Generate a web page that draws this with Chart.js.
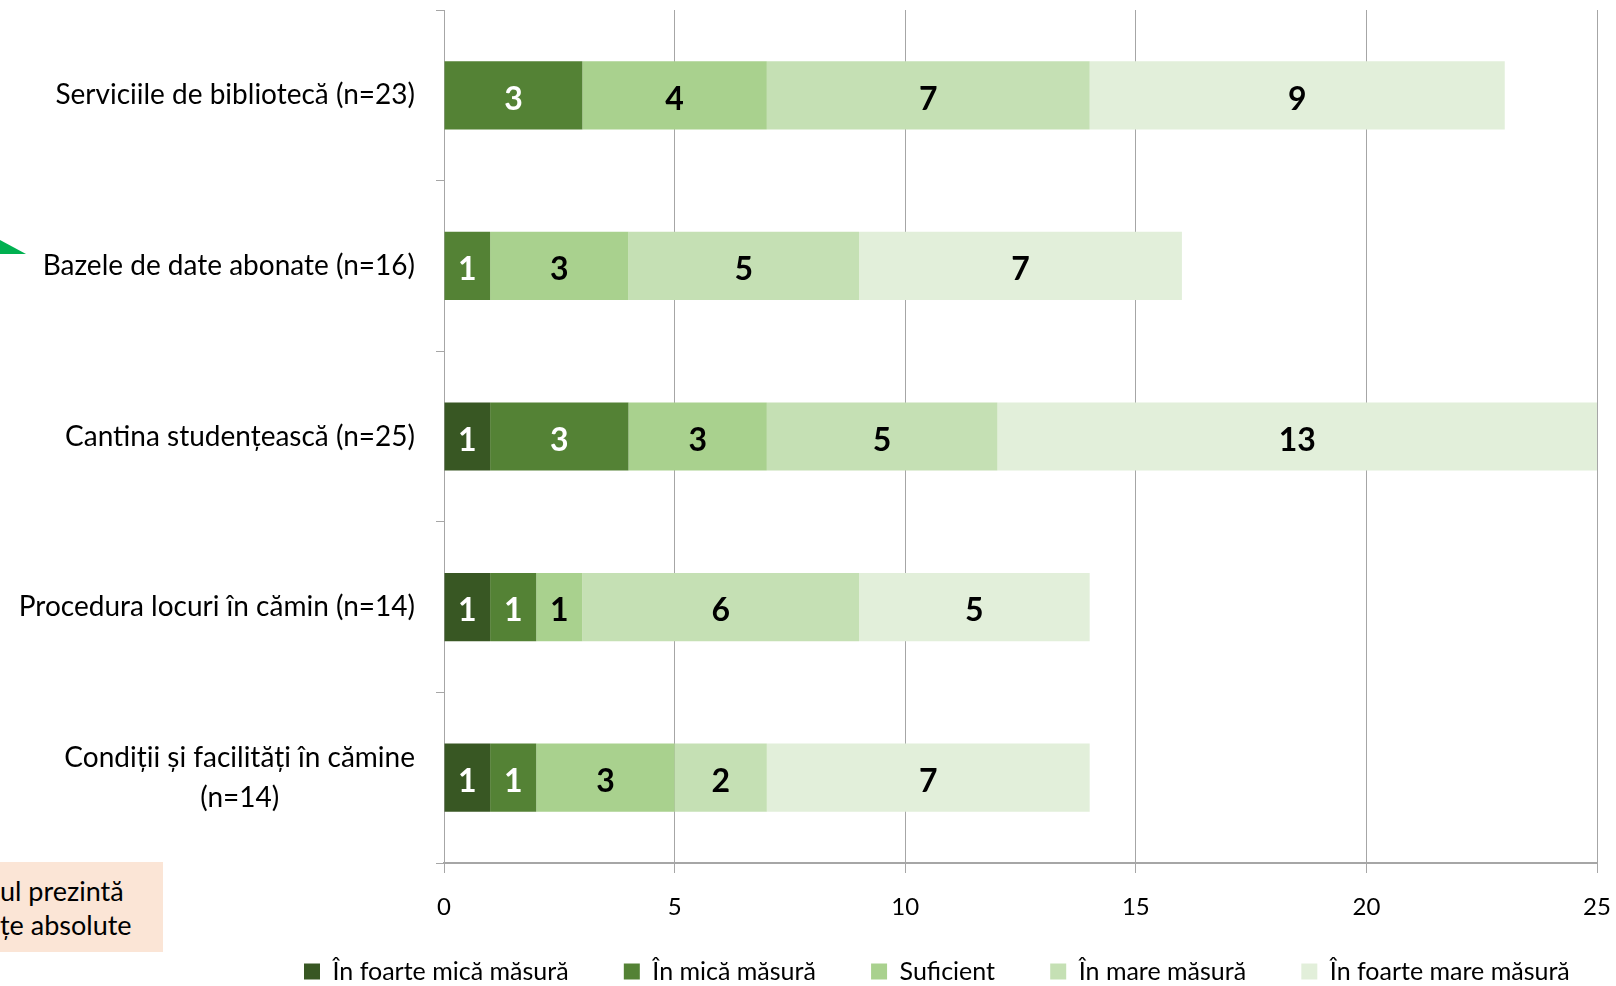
<!DOCTYPE html>
<html>
<head>
<meta charset="utf-8">
<script src="https://cdn.jsdelivr.net/npm/chart.js@4.4.0/dist/chart.umd.min.js"></script>
<style>
    html, body { margin: 0; padding: 0; background: #fff; }
    #wrap { position: relative; width: 1616px; height: 986px; overflow: hidden; }
    #grafic { position: absolute; left: 0; top: 0; }
    #nota { position: absolute; left: 0; top: 862px; width: 163px; height: 90px; background: #fbe5d6;
            font: 27px Lato; line-height: 34px; color: #000; padding-top: 12px; box-sizing: border-box; white-space: nowrap; }
    #sageata { position: absolute; left: 0; top: 240px; width: 26px; height: 14px; background: #00b050;
               clip-path: polygon(0 0, 100% 100%, 0 100%); }
</style>
</head>
<body>
<div id="wrap">
    <canvas id="grafic" width="1616" height="986"></canvas>
    <div id="sageata"></div>
    <div id="nota">ul prezintă<br>țe absolute</div>
</div>
<script>
var categorii = [
    'Serviciile de bibliotecă (n=23)',
    'Bazele de date abonate (n=16)',
    'Cantina studențească (n=25)',
    'Procedura locuri în cămin (n=14)',
    ['Condiții și facilități în cămine', '(n=14)']
];
var serii = ['În foarte mică măsură', 'În mică măsură', 'Suficient', 'În mare măsură', 'În foarte mare măsură'];
var foarteMica = [0, 0, 1, 1, 1];
var mica = [3, 1, 3, 1, 1];
var suficient = [4, 3, 3, 1, 3];
var mare = [7, 5, 5, 6, 2];
var foarteMare = [9, 7, 13, 5, 7];
var culori = ['#385723', '#548235', '#a9d18e', '#c5e0b4', '#e2efda'];
var valoriX = [0, 5, 10, 15, 20, 25];

var valori = [foarteMica, mica, suficient, mare, foarteMare];

// etichetele categoriilor (centrate pe bloc, ca in Excel)
var etichetePlugin = {
    id: 'etichete',
    afterDraw: function (chart) {
        var ctx = chart.ctx;
        var y = chart.scales.y;
        ctx.save();
        ctx.font = '28px Lato';
        ctx.fillStyle = '#000';
        ctx.textAlign = 'center';
        ctx.textBaseline = 'middle';
        categorii.forEach(function (c, i) {
            var py = y.getPixelForValue(i);
            var randuri = Array.isArray(c) ? c : [c];
            var w = Math.max.apply(null, randuri.map(function (r) { return ctx.measureText(r).width; }));
            var cx = y.right - 29 - w / 2;
            randuri.forEach(function (r, k) {
                ctx.fillText(r, cx, py + (k - (randuri.length - 1) / 2) * 40);
            });
        });
        ctx.restore();
    }
};

// valorile in interiorul barelor
var valoriPlugin = {
    id: 'valori',
    afterDatasetsDraw: function (chart) {
        var ctx = chart.ctx;
        ctx.save();
        ctx.font = 'bold 32px Lato';
        ctx.textAlign = 'center';
        ctx.textBaseline = 'middle';
        chart.data.datasets.forEach(function (ds, i) {
            chart.getDatasetMeta(i).data.forEach(function (bar, j) {
                var v = ds.data[j];
                if (!v) return;
                ctx.fillStyle = i < 2 ? '#fff' : '#000';
                ctx.fillText(v, (bar.x + bar.base) / 2, bar.y + 4);
            });
        });
        ctx.restore();
    }
};

new Chart(document.getElementById('grafic'), {
    type: 'bar',
    data: {
        labels: categorii,
        datasets: serii.map(function (s, i) {
            return {
                label: s,
                data: valori[i],
                backgroundColor: culori[i],
                borderWidth: 0,
                barPercentage: 0.4,
                categoryPercentage: 1
            };
        })
    },
    options: {
        indexAxis: 'y',
        responsive: false,
        animation: false,
        layout: { padding: { left: 300, right: 19, top: 10, bottom: -8 } },
        scales: {
            x: {
                stacked: true,
                min: 0,
                max: 25,
                afterBuildTicks: function (s) { s.ticks = valoriX.map(function (v) { return { value: v }; }); },
                afterFit: function (s) { s.paddingLeft = 0; s.paddingRight = 0; s.height = 92; },
                ticks: { font: { family: 'Lato', size: 24 }, color: '#000', padding: 20 },
                grid: { color: '#a6a6a6', lineWidth: 1, tickLength: 10 },
                border: { color: '#a6a6a6', width: 2 }
            },
            y: {
                stacked: true,
                afterFit: function (s) { s.width = 144; },
                ticks: { display: false },
                grid: { drawOnChartArea: false, drawTicks: true, tickLength: 8, color: '#a6a6a6', offset: true },
                border: { color: '#a6a6a6', width: 1 }
            }
        },
        plugins: {
            tooltip: { enabled: false },
            legend: {
                position: 'bottom',
                align: 'start',
                labels: {
                    boxWidth: 16,
                    boxHeight: 16,
                    padding: 4,
                    color: '#000',
                    font: { family: 'Lato', size: 25 },
                    generateLabels: function (chart) {
                        var items = Chart.defaults.plugins.legend.labels.generateLabels(chart);
                        return items.map(function (l, i) {
                            if (i < items.length - 1) l.text = l.text + '\u00a0\u00a0\u00a0\u00a0\u00a0\u00a0\u00a0\u00a0';
                            return l;
                        });
                    }
                }
            }
        }
    },
    plugins: [etichetePlugin, valoriPlugin]
});
</script>
</body>
</html>
